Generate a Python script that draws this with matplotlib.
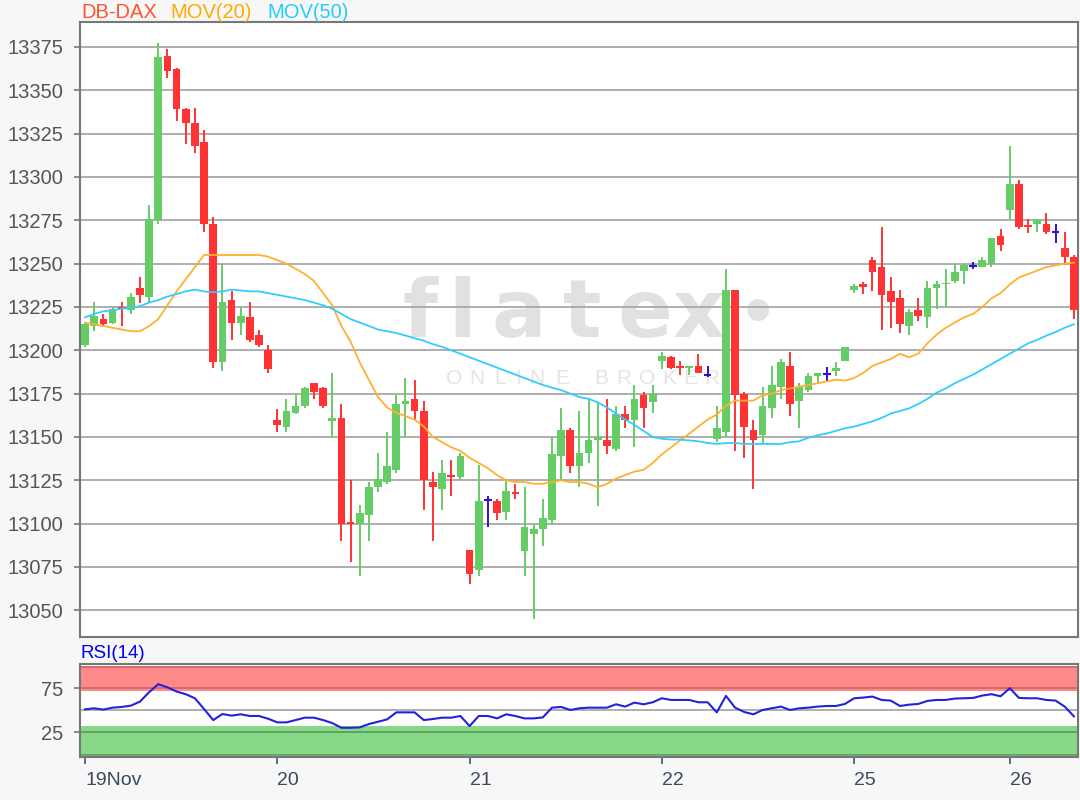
import matplotlib.pyplot as plt
import numpy as np

# OHLC per bar (DB-DAX, 19-26 Nov)
opens = [13203, 13214, 13218, 13216, 13225, 13223, 13236, 13231, 13275, 13370,
         13362, 13339, 13331, 13320, 13273, 13193, 13229, 13216, 13219, 13209,
         13200, 13160, 13156, 13164, 13168, 13181, 13178, 13159, 13161, 13101,
         13100, 13105, 13121, 13124, 13131, 13169, 13172, 13165, 13124, 13120,
         13128, 13127, 13085, 13073, 13113.5, 13113, 13107, 13118, 13084, 13094,
         13097, 13102, 13139, 13154, 13133, 13141, 13148, 13148, 13143, 13163,
         13160, 13174, 13170, 13194, 13196, 13191, 13190, 13191, 13186, 13149,
         13153, 13235, 13175, 13154, 13151, 13167, 13179, 13191, 13171, 13177,
         13185, 13186.4, 13188, 13194, 13235, 13238, 13252, 13248, 13234, 13230,
         13214, 13223, 13219, 13236, 13238, 13240, 13246, 13248.7, 13248, 13250,
         13266, 13281, 13296, 13272, 13273, 13273, 13268, 13259, 13254]
closes = [13215, 13220, 13215, 13224, 13224, 13231, 13232, 13276, 13369, 13361,
          13339, 13331, 13318, 13273, 13193, 13228, 13216, 13220, 13206, 13203,
          13189, 13157, 13165, 13168, 13178, 13176, 13168, 13161, 13100, 13100,
          13106, 13121, 13126, 13133, 13169, 13171, 13165, 13125, 13121, 13129,
          13127, 13139, 13071, 13113, 13113.5, 13106, 13119, 13117, 13098, 13097,
          13103, 13140, 13154, 13133, 13141, 13148, 13150, 13145, 13163, 13160,
          13172, 13167, 13175, 13197, 13190, 13190, 13191, 13187, 13186, 13155,
          13235, 13174, 13156, 13148, 13168, 13180, 13193, 13169, 13179, 13185,
          13187, 13186.4, 13190, 13202, 13237, 13236.6, 13245, 13232, 13228, 13215,
          13222, 13220, 13236, 13238, 13239, 13245, 13249, 13248.7, 13252, 13265,
          13261, 13296, 13271, 13271, 13275, 13268, 13268, 13254, 13223]
highs = [13216, 13228, 13221, 13225, 13228, 13233, 13242, 13284, 13377, 13374,
         13363, 13340, 13340, 13327, 13277, 13250, 13234, 13225, 13228, 13212,
         13203, 13166, 13172, 13174, 13179, 13181, 13179, 13187, 13169, 13125,
         13111, 13124, 13141, 13153, 13174, 13184, 13183, 13171, 13130, 13137,
         13137, 13141, 13085, 13134, 13116, 13114, 13125, 13123, 13121, 13099,
         13114, 13150, 13167, 13155, 13165, 13172, 13170, 13172, 13168, 13168,
         13180, 13176, 13180, 13199, 13197, 13194, 13191, 13198, 13191, 13168,
         13247, 13235, 13176, 13160, 13179, 13191, 13195, 13199, 13181, 13187,
         13187, 13190.6, 13193, 13202, 13238.5, 13239.5, 13254, 13271, 13242, 13235,
         13224, 13230, 13240, 13240, 13247, 13250, 13250, 13251, 13253.6, 13265,
         13270, 13318, 13298, 13276, 13276, 13279, 13272.9, 13268, 13255]
lows = [13202, 13211, 13214, 13215, 13214, 13221, 13227, 13228, 13273, 13357,
        13332, 13319, 13314, 13268, 13190, 13188, 13206, 13209, 13205, 13202,
        13187, 13153, 13153, 13163, 13167, 13172, 13167, 13150, 13090, 13078,
        13070, 13090, 13118, 13123, 13129, 13150, 13160, 13108, 13090, 13108,
        13116, 13125, 13065, 13070, 13098, 13102, 13102, 13114, 13070, 13045,
        13087, 13100, 13125, 13129, 13121, 13135, 13110, 13140, 13142, 13155,
        13144, 13155, 13164, 13189, 13189, 13186, 13186, 13187, 13184.6, 13147,
        13150, 13142, 13138, 13120, 13146, 13161, 13172, 13162, 13155, 13176,
        13181, 13181.5, 13185, 13194, 13233, 13232.7, 13234, 13212, 13213, 13210,
        13209, 13217, 13213, 13224, 13225, 13239, 13238.5, 13247, 13248, 13248,
        13257, 13275, 13270, 13267.5, 13268, 13267, 13262, 13250, 13218]

# moving averages
ma20 = [13216, 13215, 13214, 13213, 13212, 13211, 13211, 13214, 13218, 13226,
        13234, 13241, 13248, 13255, 13255, 13255, 13255, 13255, 13255, 13255,
        13254, 13252, 13250, 13247, 13244, 13240, 13233, 13226, 13214, 13205,
        13193, 13183, 13173, 13167, 13164, 13162, 13160, 13156, 13150, 13147,
        13144, 13142, 13138, 13135, 13132, 13128, 13125, 13124, 13124, 13123,
        13123, 13124, 13125, 13124, 13124, 13123, 13121, 13123, 13126, 13128,
        13130, 13131, 13135, 13140, 13144, 13148, 13152, 13156, 13160, 13163,
        13168, 13171, 13171, 13171, 13174, 13175, 13177, 13178, 13179, 13180,
        13181, 13182, 13183, 13182.5, 13184, 13187, 13191, 13193, 13195, 13198,
        13196, 13198, 13204, 13209, 13213, 13216, 13219, 13221, 13225, 13230,
        13233, 13238, 13242, 13244, 13246, 13248, 13249, 13250, 13250.5]
ma50 = [13219, 13221, 13222.5, 13223, 13224, 13224.5, 13225.5, 13227.5, 13229, 13231,
        13232.5, 13234, 13235, 13234, 13233.5, 13234, 13235, 13234.5, 13234, 13234,
        13233, 13232, 13231, 13230, 13229, 13227.5, 13226, 13224, 13221, 13218,
        13216, 13214, 13212, 13211, 13210, 13208.5, 13207, 13205.5, 13203.5, 13202,
        13200, 13198, 13196, 13194, 13192, 13190, 13188, 13186, 13184, 13182,
        13180, 13178.5, 13177, 13175, 13173, 13172, 13170, 13167, 13163.5, 13160,
        13157, 13153.5, 13150, 13149, 13148.5, 13148.5, 13148, 13147.5, 13146.5, 13146,
        13146.5, 13146.5, 13146, 13146, 13146, 13146, 13146, 13147, 13147.5, 13149.5,
        13151, 13152, 13153.5, 13155, 13156, 13157.5, 13159, 13161, 13163.5, 13165,
        13166.5, 13169, 13172, 13175.5, 13178, 13181, 13183.5, 13186, 13189, 13192,
        13195, 13198, 13201, 13204, 13206, 13208.5, 13210.5, 13213, 13215]

rsi = [51.1, 52.3, 50.8, 53.0, 53.8, 55.3, 59.8, 70.5, 79.5, 76.0,
       71.2, 68.2, 63.6, 51.5, 39.0, 45.8, 44.0, 45.5, 43.6, 43.6,
       40.5, 36.4, 36.4, 39.0, 41.7, 41.7, 39.0, 35.6, 30.3, 30.3,
       30.7, 34.5, 37.1, 39.8, 47.7, 47.7, 47.7, 39.0, 40.2, 41.7,
       41.7, 43.6, 32.2, 43.6, 43.6, 40.9, 45.5, 43.6, 40.9, 40.9,
       42.0, 53.0, 53.8, 50.4, 52.3, 53.0, 53.0, 53.0, 56.8, 54.2,
       58.7, 56.8, 59.1, 63.6, 61.7, 61.7, 61.7, 59.1, 59.1, 47.7,
       66.3, 53.0, 48.1, 45.5, 50.4, 52.3, 54.2, 50.4, 52.3, 53.0,
       54.2, 54.9, 54.9, 57.2, 63.6, 64.4, 65.5, 61.7, 61.0, 54.9,
       56.4, 57.2, 60.6, 61.7, 61.7, 63.3, 63.6, 64.0, 66.7, 68.2,
       65.9, 75.0, 64.0, 63.6, 63.6, 61.7, 61.0, 54.2, 43.2]

day_ticks = [0, 21, 42, 63, 84, 101]
day_labels = ['19Nov', '20', '21', '22', '25', '26']
price_ticks = list(range(13050, 13376, 25))

plt.rcParams['font.family'] = ['Liberation Sans', 'DejaVu Sans']

up_col = '#66cc66'
down_col = '#ff3333'
flat_col = '#3311cc'

o = np.array(opens, dtype=float)
c = np.array(closes, dtype=float)
h = np.array(highs, dtype=float)
l = np.array(lows, dtype=float)
x = np.arange(len(o))
cols = np.where(c > o, up_col, np.where(c < o, down_col, flat_col))

fig = plt.figure(figsize=(10.8, 8), dpi=100, facecolor='#f7f7f7')
ax = fig.add_axes([80/1080, 1-637/800, 998/1080, 615/800])
ax_rsi = fig.add_axes([80/1080, 1-757/800, 998/1080, 93/800], sharex=ax)

# watermark (flatex logo, letter by letter)
wm_letters = ['f', 'l', 'a', 't', 'e', 'x']
wm_xs = [0.341, 0.383, 0.440, 0.503, 0.566, 0.620]
for ch, xx in zip(wm_letters, wm_xs):
    ax.text(xx, 0.488, ch, transform=ax.transAxes, fontsize=58, color='#e1e1e1',
            ha='center', va='baseline', family='DejaVu Sans', fontweight='bold',
            zorder=0)
ax.text(0.679, 0.52, '•', transform=ax.transAxes, fontsize=54, color='#e1e1e1',
        ha='center', va='center', family='DejaVu Sans', zorder=0)
sub_letters = list('ONLINE') + list('BROKER')
sub_xs = [0.375, 0.398, 0.421, 0.439, 0.458, 0.483,
          0.522, 0.545, 0.568, 0.590, 0.611, 0.633]
for ch, xx in zip(sub_letters, sub_xs):
    ax.text(xx, 0.421, ch, transform=ax.transAxes, fontsize=15, color='#e4e4e4',
            ha='center', va='center', zorder=0)

# candles
ax.vlines(x, l, h, colors=cols, lw=1.4, zorder=2)
body_lo = np.minimum(o, c)
body_h = np.maximum(np.abs(c - o), 0.9)
is_body = c != o
ax.bar(x[is_body], body_h[is_body], bottom=body_lo[is_body], width=0.84,
       color=cols[is_body], linewidth=0, zorder=3)
ax.hlines(o[~is_body], x[~is_body] - 0.42, x[~is_body] + 0.42,
          colors=flat_col, lw=1.5, zorder=3)

ax.plot(x, ma20, color='#ffb030', lw=1.3, zorder=4)
ax.plot(x, ma50, color='#33ccff', lw=1.3, zorder=4)

ax.set_xlim(-0.55, 108.45)
ax.set_ylim(13034.6, 13389.4)
ax.set_yticks(price_ticks)
ax.yaxis.grid(True, color='#a8a8a8', lw=1.3)
ax.set_axisbelow(True)
ax.tick_params(axis='y', length=4, width=1.2, color='#777777', pad=8,
               labelsize=14.5, labelcolor='#555555')
ax.tick_params(axis='x', bottom=False, labelbottom=False)
for sp in ax.spines.values():
    sp.set_color('#777777')
    sp.set_linewidth(1.5)

# RSI panel
ax_rsi.axhspan(72, 100.5, color='#ff8a8a', lw=0, zorder=0)
ax_rsi.axhspan(-0.5, 32.5, color='#88d888', lw=0, zorder=0)
ax_rsi.axhline(98.5, color='#cc6666', lw=1.2, zorder=1)
ax_rsi.axhline(75, color='#cc6666', lw=1.2, zorder=1)
ax_rsi.axhline(50, color='#a8a8a8', lw=1.3, zorder=1)
ax_rsi.axhline(25, color='#55995a', lw=1.2, zorder=1)
ax_rsi.axhline(0, color='#55995a', lw=1.2, zorder=1)
ax_rsi.plot(x, rsi, color='#2222dd', lw=1.5, zorder=3)
ax_rsi.set_ylim(-2.7, 102.3)
ax_rsi.set_yticks([25, 75])
ax_rsi.tick_params(axis='y', length=4, width=1.2, color='#777777', pad=8,
                   labelsize=14.5, labelcolor='#555555')
ax_rsi.set_xticks(day_ticks)
ax_rsi.set_xticklabels(day_labels)
ax_rsi.tick_params(axis='x', length=5, width=1.2, color='#445566', pad=6,
                   labelsize=14, labelcolor='#3a4a5c')
for lbl in ax_rsi.get_xticklabels():
    lbl.set_horizontalalignment('left')
for sp in ax_rsi.spines.values():
    sp.set_color('#777777')
    sp.set_linewidth(1.5)

# titles
fig.text(81/1080, 1-12/800, 'DB-DAX', color='#ff5533', fontsize=14.5, va='center')
fig.text(170/1080, 1-12/800, 'MOV(20)', color='#ffaa00', fontsize=14.5, va='center')
fig.text(267/1080, 1-12/800, 'MOV(50)', color='#22ccff', fontsize=14.5, va='center')
fig.text(81/1080, 1-654/800, 'RSI(14)', color='#0000ee', fontsize=13.5, va='center')

fig.savefig('out.png', dpi=100, facecolor=fig.get_facecolor())
